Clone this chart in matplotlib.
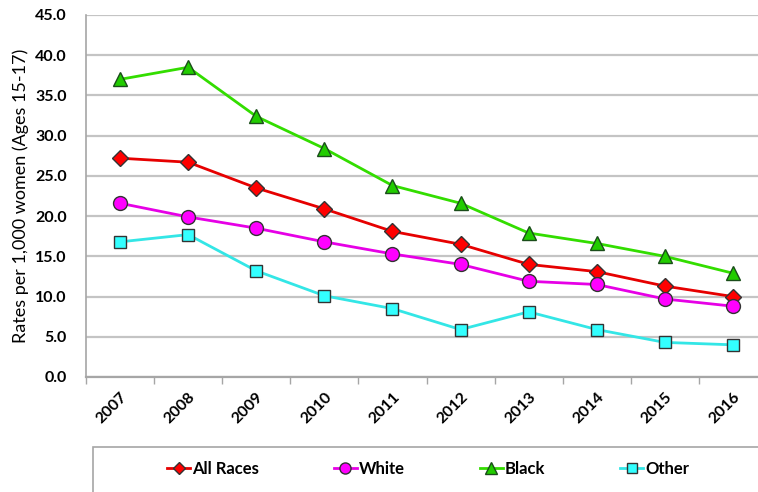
import matplotlib
matplotlib.use("Agg")
import matplotlib.pyplot as plt
from matplotlib.patches import Rectangle

plt.rcParams["font.family"] = ["Lato", "DejaVu Sans"]

years = ["2007", "2008", "2009", "2010", "2011", "2012", "2013", "2014", "2015", "2016"]
all_races = [27.2, 26.7, 23.5, 20.9, 18.1, 16.5, 14.0, 13.1, 11.3, 10.0]
white = [21.6, 19.9, 18.5, 16.8, 15.3, 14.0, 11.9, 11.5, 9.7, 8.8]
black = [37.0, 38.5, 32.4, 28.4, 23.8, 21.6, 17.9, 16.6, 15.0, 12.9]
other = [16.8, 17.7, 13.2, 10.1, 8.5, 5.9, 8.1, 5.9, 4.3, 4.0]

series = [
    ("All Races", all_races, "#e60000", "#ff0000", "D", 8),
    ("White", white, "#e600e6", "#ff00ff", "o", 10),
    ("Black", black, "#33dd00", "#22cc00", "^", 10),
    ("Other", other, "#33e6e6", "#33ffff", "s", 9),
]

fig = plt.figure(figsize=(7.58, 4.92), dpi=100)
ax = fig.add_axes([86 / 758, 1 - 377 / 492, 681 / 758, 362 / 492])

x = list(range(len(years)))
handles = []
for name, vals, lc, fc, mk, ms in series:
    (h,) = ax.plot(x, vals, color=lc, lw=2.0, marker=mk, ms=ms,
                   markerfacecolor=fc, markeredgecolor="#1a4d1a" if mk == "^" else "#333333",
                   markeredgewidth=1.0, label=name, zorder=3)
    handles.append(h)

ax.set_xlim(-0.5, len(years) - 0.5)
ax.set_ylim(0, 45)
ax.set_yticks([i * 5 for i in range(10)])
ax.set_yticklabels([f"{i * 5:.1f}" for i in range(10)], fontsize=11.5, fontweight="bold")
ax.set_xticks(x)
ax.set_xticklabels(years, fontsize=11.5, fontweight="bold", rotation=45,
                   ha="right", rotation_mode="anchor")
ax.set_xticks([i - 0.5 for i in range(len(years) + 1)], minor=True)
ax.tick_params(axis="x", which="major", length=0, pad=9)
ax.tick_params(axis="x", which="minor", length=5, color="#a6a6a6", width=1)
ax.tick_params(axis="y", length=0, pad=14)

ax.grid(axis="y", color="#c4c4c4", lw=1.6, zorder=0)
ax.set_axisbelow(True)
for s in ["top", "right"]:
    ax.spines[s].set_visible(False)
ax.spines["left"].set_color("#a6a6a6")
ax.spines["bottom"].set_color("#a6a6a6")
ax.spines["left"].set_linewidth(1.2)
ax.spines["bottom"].set_linewidth(1.6)

ax.set_ylabel("Rates per 1,000 women (Ages 15-17)", fontsize=13, labelpad=4)

# legend box at the bottom
fig.patches.append(Rectangle((93 / 758, -0.05), 0.95, (492 - 447) / 492 + 0.05,
                             transform=fig.transFigure, fill=False,
                             edgecolor="#a6a6a6", lw=1.2))
fig.legend(handles=handles, loc="center", bbox_to_anchor=(428 / 758, 1 - 469 / 492),
           ncol=4, frameon=False, handlelength=1.4, handletextpad=0.1,
           columnspacing=4.5, markerscale=0.8,
           prop={"size": 12, "weight": "bold"})

fig.savefig("out.png", dpi=100)
